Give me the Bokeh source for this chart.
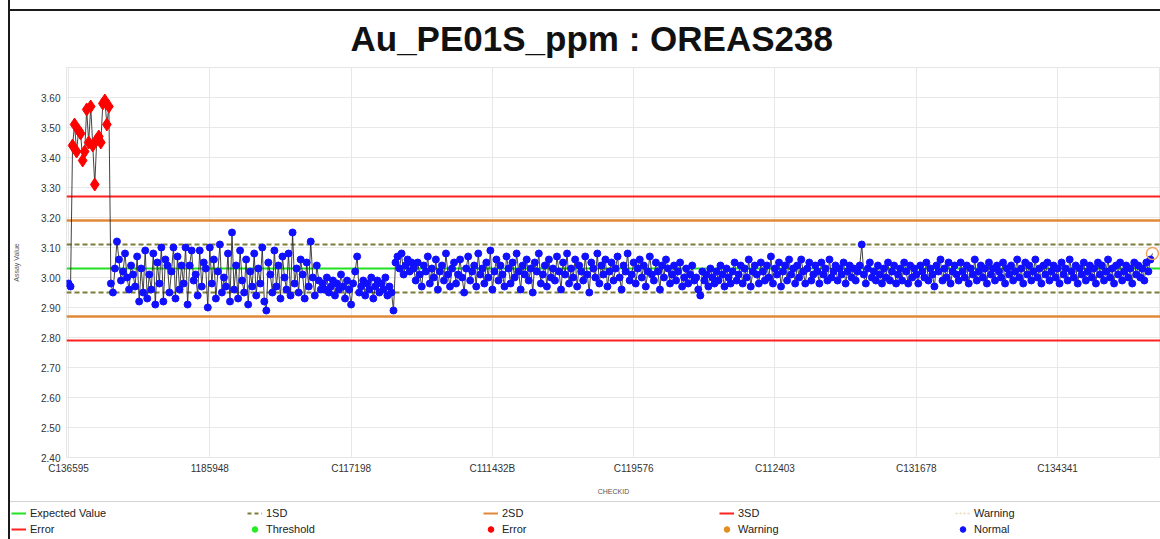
from bokeh.plotting import figure
from bokeh.layouts import column
from bokeh.models import (Range1d, FixedTicker, Span, Legend, LegendItem,
                          ColumnDataSource, NumeralTickFormatter)
from bokeh.embed import file_html
from bokeh.resources import INLINE

title_text = "Au_PE01S_ppm : OREAS238"
x_title = "CHECKID"
y_title = "Assay Value"
tick_labels = ["C136595", "1185948", "C117198", "C111432B",
               "C119576", "C112403", "C131678", "C134341"]
tick_step = 70
y_ticks = [2.40, 2.50, 2.60, 2.70, 2.80, 2.90, 3.00, 3.10, 3.20, 3.30, 3.40, 3.50, 3.60]

expected_value = 3.03
one_sd = 0.08

start_vals = [2.98, 2.97]
error_vals = [3.44, 3.51, 3.42, 3.49, 3.48, 3.39, 3.42, 3.56, 3.45, 3.57,
              3.44, 3.31, 3.46, 3.47, 3.45, 3.58, 3.59, 3.51, 3.57]
wide_vals = [2.98, 2.95, 3.03, 3.12, 3.06, 2.99, 3.02, 3.08, 3.00, 2.96,
             3.04, 3.01, 2.97, 3.07, 2.92, 3.03, 2.95, 3.09, 2.93, 3.01,
             2.96, 3.08, 2.91, 3.05, 2.98, 3.10, 2.92, 3.06, 3.04, 2.95,
             3.02, 3.10, 2.93, 3.07, 2.96, 3.04, 2.98, 3.10, 2.91, 3.04,
             3.09, 2.99, 3.01, 2.94, 3.09, 2.97, 3.05, 3.03, 2.90, 3.10,
             2.98, 3.06, 2.93, 3.02, 3.11, 2.95, 3.00, 2.97, 3.08, 2.92,
             3.15, 2.96, 3.04, 2.93, 3.09, 2.99, 2.95, 3.06, 2.91, 3.02,
             2.97, 3.08, 2.94, 3.03, 2.98, 3.10, 2.92, 2.89, 3.05, 3.01,
             2.95, 3.09, 2.97, 3.04, 2.93, 3.07, 3.00, 2.96, 3.08, 2.94,
             3.15, 2.98, 3.03, 2.95, 3.06, 3.01, 2.93, 3.05, 2.97, 3.12,
             3.00, 2.94, 3.04, 2.99, 2.96]
low_vals = [2.98, 2.96, 3.00, 2.95, 2.97, 2.99, 2.94, 2.98, 2.96, 3.01,
            2.97, 2.93, 2.99, 2.96, 2.91, 2.98, 3.02, 3.07, 2.95, 2.97,
            2.99, 2.94, 2.98, 2.96, 3.00, 2.93, 2.97, 2.99, 2.95, 2.98,
            2.96, 3.00, 2.94, 2.97, 2.95, 2.89]
stable_vals = [3.05, 3.07, 3.03, 3.08, 3.01, 3.04, 3.06, 3.02, 3.05,
               3.03, 2.99, 3.05, 3.01, 2.97, 3.04, 3.02, 3.07, 2.98, 3.03,
               3.00, 3.06, 2.96, 3.02, 3.04, 2.99, 3.08, 3.01, 2.97, 3.03,
               3.05, 2.98, 3.01, 3.06, 3.00, 2.95, 3.03, 3.07, 2.99, 3.02,
               3.04, 2.97, 3.08, 3.01, 3.03, 2.98, 3.05, 3.00, 3.09, 2.96,
               3.02, 3.06, 2.99, 3.04, 3.01, 2.97, 3.07, 3.03, 2.98, 3.05,
               3.00, 3.08, 3.02, 2.96, 3.04, 3.01, 3.06, 2.99, 3.03, 2.95,
               3.05, 3.02, 3.08, 2.98, 3.01, 3.04, 2.97, 3.06, 3.00, 3.03,
               2.99, 3.07, 3.02, 2.96, 3.05, 3.01, 3.08, 2.98, 3.03, 3.00,
               3.06, 2.97, 3.04, 3.02, 2.99, 3.07, 3.01, 2.95, 3.05, 3.03,
               3.00, 3.08, 2.98, 3.04, 3.01, 3.06, 2.97, 3.02, 3.05, 2.99,
               3.03, 3.07, 3.00, 2.96, 3.04, 3.02, 3.08, 2.99, 3.01, 3.05,
               2.98, 3.03, 3.06, 3.00, 3.04, 2.97, 3.02, 3.07, 3.01, 2.99,
               3.05, 3.02, 2.96, 3.04, 3.00, 3.06, 3.03, 2.98, 3.01, 3.04,
               2.99, 3.02, 3.05, 2.97, 3.00, 3.03, 2.98, 3.01, 3.04, 2.99,
               3.00, 2.96, 2.94, 3.02, 2.99, 3.01, 2.97, 3.03, 3.00, 2.98,
               3.02, 2.99, 3.04, 3.01, 2.97, 3.03, 3.00, 2.98, 3.02, 3.05,
               2.99, 3.01, 3.04, 2.98, 3.03, 3.00, 3.06, 2.97, 3.02, 3.04,
               3.01, 2.98, 3.05, 3.02, 2.99, 3.04, 3.00, 3.07, 2.98, 3.03,
               3.01, 3.05, 2.97, 3.02, 3.04, 2.99, 3.06, 3.01, 3.03, 2.98,
               3.04, 3.00, 3.06, 3.02, 2.98, 3.03, 3.05, 2.99, 3.01, 3.04,
               3.02, 2.98, 3.05, 3.01, 3.03, 2.99, 3.06, 3.00, 3.02, 3.04,
               2.99, 3.03, 3.01, 3.05, 2.98, 3.02, 3.04, 3.00, 3.03, 2.99,
               3.02, 3.04, 3.11, 3.01, 2.98, 3.03, 3.05, 3.00, 3.02, 2.99,
               3.04, 3.01, 2.98, 3.03, 3.00, 3.05, 2.99, 3.02, 3.04, 2.98,
               3.01, 3.03, 2.99, 3.05, 3.02, 2.98, 3.04, 3.00, 3.03, 3.01,
               2.98, 3.04, 3.02, 3.00, 3.05, 2.99, 3.03, 3.01, 2.97, 3.04,
               3.02, 3.06, 2.99, 3.03, 3.00, 3.05, 2.98, 3.02, 3.04, 3.01,
               2.99, 3.05, 3.02, 3.00, 3.04, 2.98, 3.03, 3.01, 3.06, 2.99,
               3.02, 3.04, 3.00, 3.03, 2.98, 3.05, 3.01, 3.03, 2.99, 3.04,
               3.02, 3.00, 3.05, 2.98, 3.03, 3.01, 3.04, 2.99, 3.02, 3.06,
               3.00, 3.03, 2.98, 3.05, 3.01, 3.04, 2.99, 3.02, 3.06, 3.00,
               3.03, 2.98, 3.04, 3.01, 3.05, 2.99, 3.02, 3.04, 3.00, 3.03,
               2.98, 3.05, 3.01, 3.03, 2.99, 3.06, 3.02, 3.00, 3.04, 2.98,
               3.03, 3.01, 3.05, 2.99, 3.02, 3.04, 3.00, 3.03, 2.98, 3.05,
               3.01, 3.04, 2.99, 3.02, 3.06, 3.00, 3.03, 2.98, 3.04, 3.01,
               3.05, 2.99, 3.02, 3.04, 3.00, 3.03, 2.98, 3.05, 3.01, 3.04,
               3.00, 3.03, 2.99, 3.05, 3.02, 3.06]
warning_vals = [3.08]

# ---- assemble series ----
values = start_vals + error_vals + wide_vals + low_vals + stable_vals + warning_vals
status = (["Normal"] * len(start_vals) + ["Error"] * len(error_vals)
          + ["Normal"] * (len(wide_vals) + len(low_vals) + len(stable_vals))
          + ["Warning"] * len(warning_vals))
idx = list(range(len(values)))

src_all = ColumnDataSource(dict(x=idx, y=values))
def sub(kind):
    xs = [i for i, s in zip(idx, status) if s == kind]
    ys = [v for v, s in zip(values, status) if s == kind]
    return ColumnDataSource(dict(x=xs, y=ys))

# ---------------- main chart ----------------
p = figure(width=1150, height=499, output_backend="svg", toolbar_location=None,
           x_range=Range1d(-1, 541), y_range=Range1d(2.40, 3.70),
           min_border_left=55, min_border_right=0, min_border_top=67,
           min_border_bottom=42)

p.title.text = title_text
p.title.text_font = "Liberation Sans"
p.title.text_font_size = "35px"
p.title.text_font_style = "bold"
p.title.align = "left"
p.title.offset = 284
p.title.text_color = "#111111"
p.title.standoff = 19

p.outline_line_color = "#e6e6e6"
p.background_fill_color = "white"
p.border_fill_alpha = 0

p.xaxis.ticker = FixedTicker(ticks=[k * tick_step for k in range(len(tick_labels))])
p.xaxis.major_label_overrides = {k * tick_step: lab for k, lab in enumerate(tick_labels)}
p.yaxis.ticker = FixedTicker(ticks=y_ticks)
p.yaxis.formatter = NumeralTickFormatter(format="0.00")
for ax in (p.xaxis[0], p.yaxis[0]):
    ax.axis_line_color = None
    ax.major_tick_line_color = None
    ax.minor_tick_line_color = None
    ax.major_tick_out = 0
    ax.major_tick_in = 0
    ax.major_label_text_font = "Liberation Sans"
    ax.major_label_text_font_size = "10px"
    ax.major_label_text_color = "#333333"
    ax.axis_label_text_font = "Liberation Sans"
    ax.axis_label_text_font_size = "7px"
    ax.axis_label_text_font_style = "normal"
    ax.axis_label_text_color = "#555555"
p.xaxis.axis_label = x_title
p.yaxis.axis_label = y_title
p.yaxis.major_label_standoff = 6
p.xaxis.major_label_standoff = 5
p.xaxis.axis_label_standoff = 11
p.yaxis.axis_label_standoff = 18

p.grid.grid_line_color = "#e8e8e8"
p.grid.grid_line_width = 1

limits = [
    (expected_value, "#22e022", None, 2),
    (expected_value + one_sd, "#7d7d3a", "5 3", 2),
    (expected_value - one_sd, "#7d7d3a", "5 3", 2),
    (expected_value + 2 * one_sd, "#e0883a", None, 2.5),
    (expected_value - 2 * one_sd, "#e0883a", None, 2.5),
    (expected_value + 3 * one_sd, "#ff2020", None, 2),
    (expected_value - 3 * one_sd, "#ff2020", None, 2),
]
for loc, col, dash, w in limits:
    s = Span(location=loc, dimension="width", line_color=col, line_width=w,
             level="underlay")
    if dash:
        s.line_dash = dash
    p.add_layout(s)

p.line("x", "y", source=src_all, line_color="#222222", line_width=1, line_alpha=0.85)
p.scatter("x", "y", source=sub("Normal"), marker="circle", size=7,
          fill_color="#1010ff", line_color="#1010ff")
p.scatter("x", "y", source=sub("Error"), marker="diamond", size=13,
          fill_color="#ff0000", line_color="#ff0000")
p.scatter("x", "y", source=sub("Warning"), marker="circle", size=12,
          fill_alpha=0, line_color="#f0a060", line_width=1.5)

# ---------------- legend strip ----------------
lf = figure(width=1150, height=40, output_backend="svg", toolbar_location=None,
            x_range=Range1d(0, 1), y_range=Range1d(0, 1),
            x_axis_type=None, y_axis_type=None, title=None,
            min_border_left=0, min_border_right=0, min_border_top=0,
            min_border_bottom=0)
lf.outline_line_color = None
lf.background_fill_color = "white"
lf.border_fill_color = "white"

nan = float("nan")
def dl(**kw):
    return lf.line(x=[nan], y=[nan], **kw)
def dd(col):
    return lf.scatter(x=[nan], y=[nan], marker="circle", size=5,
                      fill_color=col, line_color=col)

r_ev = dl(line_color="#22e022", line_width=2)
r_1sd = dl(line_color="#7d7d3a", line_width=2, line_dash="4 3")
r_2sd = dl(line_color="#e0883a", line_width=2)
r_3sd = dl(line_color="#ff2020", line_width=2)
r_wl = dl(line_color="#e8d8b0", line_width=1.5, line_dash="2 2")
r_el = dl(line_color="#ff2020", line_width=2)
r_th = dd("#22ee22")
r_ed = dd("#ff0000")
r_wd = dd("#e09020")
r_nd = dd("#1010ff")

items = [
    LegendItem(label="Expected Value", renderers=[r_ev]),
    LegendItem(label="1SD", renderers=[r_1sd]),
    LegendItem(label="2SD", renderers=[r_2sd]),
    LegendItem(label="3SD", renderers=[r_3sd]),
    LegendItem(label="Warning", renderers=[r_wl]),
    LegendItem(label="Error", renderers=[r_el]),
    LegendItem(label="Threshold", renderers=[r_th]),
    LegendItem(label="Error", renderers=[r_ed]),
    LegendItem(label="Warning", renderers=[r_wd]),
    LegendItem(label="Normal", renderers=[r_nd]),
]
legend = Legend(items=items, orientation="horizontal", ncols=5,
                location=(-4, -2), margin=0, padding=4, spacing=2,
                glyph_width=15, glyph_height=14, label_height=14,
                label_width=215, label_standoff=4,
                label_text_font="Liberation Sans",
                label_text_font_size="11px", label_text_color="#222222",
                border_line_color="#a8a8a8", border_line_width=1.5,
                background_fill_alpha=0)
lf.add_layout(legend, "center")

top_box = column(p, spacing=0,
                 styles={"margin-left": "8px",
                         "border-left": "2px solid #1a1a1a",
                         "background": "linear-gradient(#1a1a1a, #1a1a1a) 0px 9px / 100% 2px no-repeat, #ffffff"})
bottom_box = column(lf, spacing=0,
                    styles={"margin-left": "8px",
                            "border-left": "2px solid #1a1a1a"})

open("out.html", "w").write(file_html([top_box, bottom_box], INLINE))
